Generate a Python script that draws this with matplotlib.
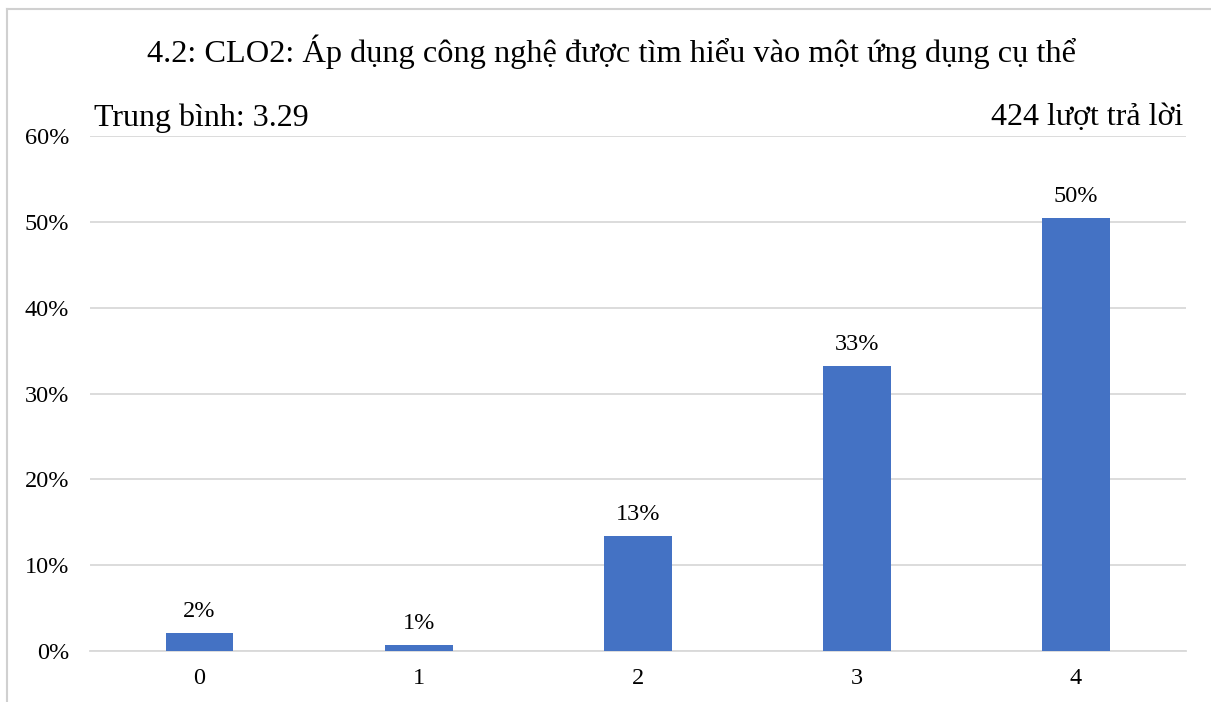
import matplotlib.pyplot as plt
from matplotlib.lines import Line2D

categories = ["0", "1", "2", "3", "4"]
percents = [2.12, 0.71, 13.44, 33.25, 50.47]
bar_labels = ["2%", "1%", "13%", "33%", "50%"]
yticks = [0, 10, 20, 30, 40, 50, 60]

title = "4.2: CLO2: Áp dụng công nghệ được tìm hiểu vào một ứng dụng cụ thể"
mean_text = "Trung bình: 3.29"
count_text = "424 lượt trả lời"

plt.rcParams["font.family"] = ["Liberation Serif", "DejaVu Serif"]

fig = plt.figure(figsize=(12.11, 7.02), dpi=100)
ax = fig.add_axes([0.0743, 0.0726, 0.9047, 0.7334])

x = range(len(categories))
ax.bar(x, percents, width=0.31, color="#4472C4", zorder=3)
for i, (v, lab) in enumerate(zip(percents, bar_labels)):
    ax.annotate(lab, (i, v), xytext=(0, 8), textcoords="offset points",
                ha="center", va="bottom", fontsize=17.5)

ax.set_xlim(-0.5, 4.5)
ax.set_ylim(0, 60)
ax.set_yticks(yticks)
ax.set_yticklabels([f"{t}%" for t in yticks], fontsize=17.5)
ax.set_xticks(list(x))
ax.set_xticklabels(categories, fontsize=17.5)
ax.tick_params(length=0)
ax.tick_params(axis="y", pad=15)
ax.tick_params(axis="x", pad=12)
ax.grid(axis="y", color="#d9d9d9", linewidth=1.3, zorder=0)
for s in ["top", "right", "left"]:
    ax.spines[s].set_visible(False)
ax.spines["bottom"].set_color("#d9d9d9")
ax.spines["bottom"].set_linewidth(1.3)

fig.text(0.505, 0.926, title, ha="center", va="center", fontsize=23.3)
fig.text(0.078, 0.832, mean_text, ha="left", va="center", fontsize=23)
fig.text(0.977, 0.832, count_text, ha="right", va="center", fontsize=23)

# outer frame edges (top and left visible)
fig.add_artist(Line2D([0.006, 1.0], [0.987, 0.987], transform=fig.transFigure,
                      color="#d0d0d0", linewidth=1.5))
fig.add_artist(Line2D([0.006, 0.006], [0.0, 0.987], transform=fig.transFigure,
                      color="#d0d0d0", linewidth=1.5))

fig.savefig("out.png", dpi=100, facecolor="white")
